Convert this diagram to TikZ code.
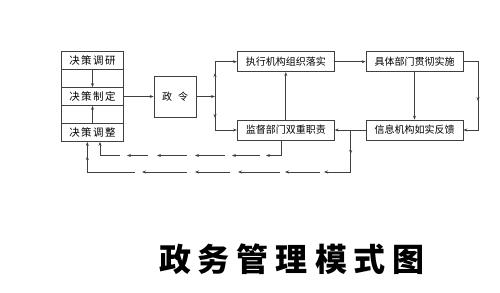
\documentclass[tikz,border=0pt]{standalone}
\usepackage{fontspec}
\newfontfamily\cjk{Noto Sans CJK SC}
\usetikzlibrary{arrows.meta}
\begin{document}
\begin{tikzpicture}[x=1pt,y=-1pt,
  ln/.style={draw=black!75, line width=0.7pt},
  arr/.style={ln, -{Stealth[length=4pt,width=3pt]}},
  rowbox/.style={ln, minimum width=62pt, minimum height=18pt, inner sep=0pt, font=\cjk\fontsize{10.5}{12}\selectfont},
  box/.style={ln, minimum width=97pt, minimum height=20pt, inner sep=0pt, font=\cjk\fontsize{10}{12}\selectfont},
]
\useasboundingbox (0,0) rectangle (500,292);
% left column
\node[rowbox] (r1) at (92.5,60.5) {决\kern1.5pt 策\kern1.5pt 调\kern1.5pt 研};
\node[rowbox] (r2) at (92.5,78.5) {};
\node[rowbox] (r3) at (92.5,96.5) {决\kern1.5pt 策\kern1.5pt 制\kern1.5pt 定};
\node[rowbox] (r4) at (92.5,114.5) {};
\node[rowbox] (r5) at (92.5,132.5) {决\kern1.5pt 策\kern1.5pt 调\kern1.5pt 整};
\draw[arr] (r1.south) -- (r3.north);
\draw[arr] (r5.north) -- (r3.south);
% decree
\node[ln, minimum width=42pt, minimum height=41pt, inner sep=0pt, font=\cjk\fontsize{10}{12}\selectfont] (zl) at (175,96.5) {政\kern6pt 令};
\draw[arr] (r3.east) -- (zl.west);
% right boxes
\node[box] (zx) at (285.8,61.7) {执行机构组织落实};
\node[box] (zj) at (414.5,61.7) {具体部门贯彻实施};
\node[box] (zm) at (285.8,130) {监督部门双重职责};
\node[box] (zi) at (414.5,130) {信息机构如实反馈};
% junction after decree
\coordinate (j) at (215,96.5);
\draw[arr] (zl.east) -- (j);
\draw[arr] (j) |- (zx.west);
\draw[arr] (j) |- (zm.west);
\draw[arr] (j) -- (215,73);
\draw[arr] (j) -- (215,118);
% main flow
\draw[arr] (zx) -- (zj);
\coordinate (c1) at (478,61.7);
\draw[arr] (zj.east) -- (c1) |- (zi.east);
\draw[arr] (c1) -- (478,101);
\draw[arr] (zj) -- (zi);
\draw[arr] (zm) -- (zx);
\draw[arr] (zi) -- (zm);
% lower feedback line
\coordinate (k) at (350.7,130);
\coordinate (kb) at (350.7,172);
\draw[arr] (k) -- (kb) -- (324,172);
\draw[arr] (k) -- (350.7,154);
\foreach \a/\b in {320/285, 280/238, 230/195, 187/142}
  \draw[arr] (\a,172) -- (\b,172);
\coordinate (L) at (87.3,172);
\draw[arr] (135,172) -- (L) -- (L |- r5.south);
\draw[arr] (L) -- (87.3,156);
% upper feedback line
\coordinate (U) at (281,155.5);
\draw[arr] (zm.south -| U) -- (U) -- (266,155.5);
\foreach \a/\b in {260/232, 225/195, 187/157, 148/127}
  \draw[arr] (\a,155.5) -- (\b,155.5);
\coordinate (V) at (100,155.5);
\draw[arr] (120,155.5) -- (V) -- (V |- r5.south);
% title
\node[font=\cjk\bfseries\fontsize{32}{36}\selectfont, inner sep=0pt] (title) at (292,259)
  {政\kern7pt 务\kern7pt 管\kern7pt 理\kern7pt 模\kern7pt 式\kern7pt 图};
\end{tikzpicture}
\end{document}
